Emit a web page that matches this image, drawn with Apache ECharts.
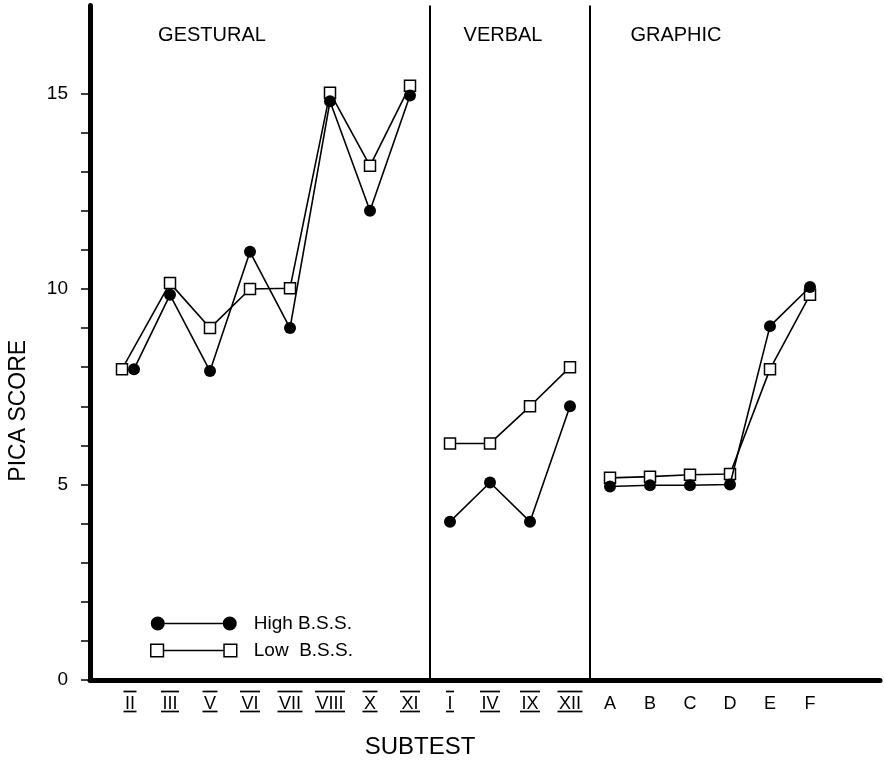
<!DOCTYPE html>
<html>
<head>
<meta charset="utf-8">
<script src="https://cdn.jsdelivr.net/npm/echarts@6/dist/echarts.min.js"></script>
<style>
html,body{margin:0;padding:0;background:#fff;}
#chart{width:884px;height:764px;}
</style>
</head>
<body>
<div id="chart"></div>
<script>
// ---- data ----
const categories = ['II','III','V','VI','VII','VIII','X','XI','I','IV','IX','XII','A','B','C','D','E','F'];
const romanLabels = ['II','III','V','VI','VII','VIII','X','XI','I','IV','IX','XII'];
const groupNames = ['GESTURAL','VERBAL','GRAPHIC'];
const gesturalTests = ['II','III','V','VI','VII','VIII','X','XI'];
const verbalTests = ['I','IV','IX','XII'];
const graphicTests = ['A','B','C','D','E','F'];
const highBSS = [7.95, 9.85, 7.9, 10.95, 9.0, 14.8, 12.0, 14.95, 4.05, 5.05, 4.05, 7.0, 4.95, 4.98, 4.98, 5.0, 9.05, 10.05];
const lowBSS  = [7.95, 10.15, 9.0, 10.0, 10.02, 15.02, 13.15, 15.2, 6.05, 6.05, 7.0, 8.0, 5.17, 5.2, 5.25, 5.27, 7.95, 9.85];
const yTickValues = [0,1,2,3,4,5,6,7,8,9,10,11,12,13,14,15];
const yLabelValues = [0,5,10,15];
const seriesNames = ['High B.S.S.', 'Low  B.S.S.'];

// ---- rendering ----
const FONT = "'Liberation Sans', Arial, sans-serif";
const groups = [gesturalTests, verbalTests, graphicTests];
// small horizontal dodge where markers coincide
const dodge = { II: { high: 0.1, low: -0.2 } };

function idx(name){ return categories.indexOf(name); }

// text width measurement for over/under bars
const LBL = 18;
const ctx = document.createElement('canvas').getContext('2d');
ctx.font = LBL + 'px ' + FONT;
const rich = { t: { fontSize: LBL, fontFamily: FONT, color: '#000', height: 12, lineHeight: 17, verticalAlign: 'bottom' } };
categories.forEach((c, i) => {
  const isRoman = romanLabels.indexOf(c) >= 0;
  const w = Math.ceil(ctx.measureText(c).width) + 2;
  rich['b' + i] = { width: w, height: 1.7, lineHeight: 3, backgroundColor: isRoman ? '#000' : 'transparent', fontSize: 1 };
});

const series = [];
groups.forEach((g, gi) => {
  ['low', 'high'].forEach(kind => {
    const vals = kind === 'high' ? highBSS : lowBSS;
    series.push({
      name: kind === 'high' ? seriesNames[0] : seriesNames[1],
      type: 'line',
      data: g.map(n => {
        const i = idx(n);
        const d = (dodge[n] && dodge[n][kind]) || 0;
        return [i + d, vals[i]];
      }),
      symbol: kind === 'high' ? 'circle' : 'rect',
      symbolSize: kind === 'high' ? 12 : 11,
      itemStyle: kind === 'high'
        ? { color: '#000', borderColor: '#000', borderWidth: 0 }
        : { color: '#fff', borderColor: '#000', borderWidth: 1.5 },
      lineStyle: { color: '#000', width: 1.6 },
      z: kind === 'high' ? 4 : 3,
      animation: false,
      emphasis: { disabled: true }
    });
  });
});
// group dividers
const dividers = [];
for (let gi = 0; gi < groups.length - 1; gi++) {
  const last = groups[gi][groups[gi].length - 1];
  dividers.push({ xAxis: idx(last) + 0.5 });
}
series[0].markLine = {
  silent: true, symbol: ['none', 'none'], label: { show: false },
  lineStyle: { color: '#000', width: 2, type: 'solid' },
  data: dividers, animation: false
};

const chart = echarts.init(document.getElementById('chart'), null, { renderer: 'canvas' });
const option = {
  backgroundColor: '#fff',
  animation: false,
  textStyle: { fontFamily: FONT },
  grid: { left: 90, right: 4, top: 5.5, bottom: 84, containLabel: false, outerBoundsMode: 'none' },
  xAxis: {
    type: 'value', min: -1, max: 18.75,
    name: 'SUBTEST', nameLocation: 'middle', nameGap: 55,
    nameTextStyle: { fontSize: 24, color: '#000', fontFamily: FONT, padding: [0, 130, 0, 0] },
    axisLine: { show: true, onZero: false, lineStyle: { color: '#000', width: 5 } },
    axisTick: { show: false },
    splitLine: { show: false },
    axisLabel: {
      customValues: categories.map((c, i) => i),
      margin: 10,
      formatter: v => {
        const i = Math.round(v);
        return '{b' + i + '|}\n{t|' + categories[i] + '}\n{b' + i + '|}';
      },
      rich: rich
    }
  },
  yAxis: {
    type: 'value', min: 0, max: 17.25,
    name: 'PICA SCORE', nameLocation: 'middle', nameGap: 60,
    nameTextStyle: { fontSize: 23, color: '#000', fontFamily: FONT, padding: [0, 136, 0, 0] },
    axisLine: { show: true, onZero: false, lineStyle: { color: '#000', width: 5 } },
    axisTick: { show: true, customValues: yTickValues, length: 9, lineStyle: { color: '#000', width: 1.5 } },
    axisLabel: { customValues: yLabelValues, margin: 22, fontSize: 19, color: '#000', fontFamily: FONT },
    splitLine: { show: false }
  },
  legend: {
    left: 145, top: 608, orient: 'vertical', itemGap: 6,
    itemWidth: 86, itemHeight: 14, selectedMode: false,
    textStyle: { fontSize: 19, color: '#000', fontFamily: FONT, lineHeight: 21, padding: [0, 0, 0, 12] },
    data: [
      { name: seriesNames[0],
        icon: 'path://M0,7A7,7 0 1 1 14,7A7,7 0 1 1 0,7Z M14,6.2L72,6.2L72,7.8L14,7.8Z M72,7A7,7 0 1 1 86,7A7,7 0 1 1 72,7Z',
        itemStyle: { color: '#000', borderColor: '#000', borderWidth: 0 } },
      { name: seriesNames[1],
        icon: 'path://M0.75,0.75L13.25,0.75L13.25,13.25L0.75,13.25Z M13.25,7L72.75,7 M72.75,0.75L85.25,0.75L85.25,13.25L72.75,13.25Z',
        itemStyle: { color: '#fff', borderColor: '#000', borderWidth: 1.5 } }
    ]
  },
  graphic: [
    { type: 'text', x: 212, y: 35.5, style: { text: groupNames[0], align: 'center', verticalAlign: 'middle', fontSize: 20, fontFamily: FONT, fill: '#000' } },
    { type: 'text', x: 503, y: 35.5, style: { text: groupNames[1], align: 'center', verticalAlign: 'middle', fontSize: 20, fontFamily: FONT, fill: '#000' } },
    { type: 'text', x: 676, y: 35.5, style: { text: groupNames[2], align: 'center', verticalAlign: 'middle', fontSize: 20, fontFamily: FONT, fill: '#000' } }
  ],
  series: series
};
chart.setOption(option);
</script>
</body>
</html>
